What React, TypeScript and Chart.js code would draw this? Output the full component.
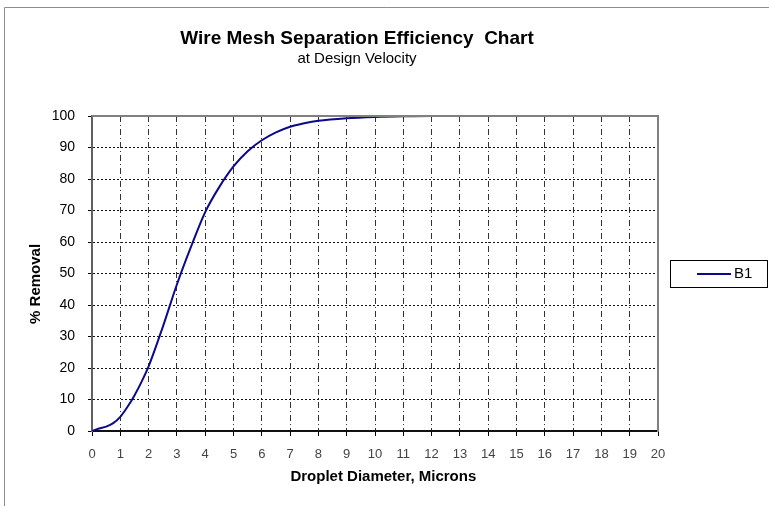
import React, { useEffect, useRef } from 'react';
import { Chart, registerables } from 'chart.js';

Chart.register(...registerables);

// ---- Data ----
const diameters = [0, 0.25, 0.5, 0.75, 1, 1.25, 1.5, 1.75, 2, 2.5, 3, 3.5, 4, 4.5, 5, 5.5, 6, 6.5, 7, 7.5, 8, 9, 10, 11, 12, 13, 14, 15, 16, 17, 18, 19, 20];
const removal = [0, 0.8, 1.4, 2.5, 4.5, 7.6, 11.3, 15.6, 20.5, 33, 46.5, 58.5, 69.5, 77.5, 84, 88.8, 92.3, 94.8, 96.6, 97.7, 98.5, 99.3, 99.7, 99.9, 100, 100, 100, 100, 100, 100, 100, 100, 100];
const seriesName = 'B1';
const chartTitle = 'Wire Mesh Separation Efficiency  Chart';
const chartSubtitle = 'at Design Velocity';
const xAxisTitle = 'Droplet Diameter, Microns';
const yAxisTitle = '% Removal';
const xMin = 0;
const xMax = 20;
const xStep = 1;
const yMin = 0;
const yMax = 100;
const yStep = 10;

const FONT = "'Liberation Sans', Arial, sans-serif";
const LINE_COLOR = '#0a0a8a';

const decorPlugin = {
  id: 'decor',
  beforeDraw(chart: any) {
    const { ctx, width, height } = chart;
    ctx.save();
    ctx.fillStyle = '#ffffff';
    ctx.fillRect(0, 0, width, height);
    ctx.strokeStyle = '#8c8c8c';
    ctx.lineWidth = 1;
    ctx.beginPath();
    ctx.moveTo(4.5, height);
    ctx.lineTo(4.5, 7.5);
    ctx.lineTo(width, 7.5);
    ctx.stroke();
    ctx.restore();
  },
  afterDraw(chart: any) {
    const { ctx, chartArea } = chart;
    ctx.save();
    // top border of plot area
    ctx.strokeStyle = '#808080';
    ctx.lineWidth = 2;
    ctx.beginPath();
    ctx.moveTo(chartArea.left, chartArea.top);
    ctx.lineTo(chartArea.right + 1, chartArea.top);
    ctx.stroke();
    // legend box
    const lx = 670.5;
    const ly = 260.5;
    ctx.strokeStyle = '#000000';
    ctx.lineWidth = 1;
    ctx.strokeRect(lx, ly, 97, 27);
    ctx.strokeStyle = LINE_COLOR;
    ctx.lineWidth = 2;
    ctx.beginPath();
    ctx.moveTo(697, ly + 13.5);
    ctx.lineTo(731, ly + 13.5);
    ctx.stroke();
    ctx.fillStyle = '#000000';
    ctx.font = `15px ${FONT}`;
    ctx.textBaseline = 'middle';
    ctx.textAlign = 'left';
    ctx.fillText(seriesName, 734, ly + 13.5);
    ctx.restore();
  },
};

export default function App() {
  const canvasRef = useRef<HTMLCanvasElement | null>(null);

  useEffect(() => {
    const canvas = canvasRef.current;
    if (!canvas) return;
    const chart = new Chart(canvas, {
      type: 'line',
      data: {
        datasets: [
          {
            label: seriesName,
            data: diameters.map((d, i) => ({ x: d, y: removal[i] })),
            borderColor: LINE_COLOR,
            backgroundColor: LINE_COLOR,
            borderWidth: 2,
            pointRadius: 0,
            cubicInterpolationMode: 'monotone',
            fill: false,
          },
        ],
      },
      options: {
        responsive: false,
        animation: false,
        devicePixelRatio: 1,
        layout: { padding: { top: 0, left: 0, right: 55, bottom: 0 } },
        plugins: {
          legend: { display: false },
          tooltip: { enabled: false },
          title: {
            display: true,
            text: chartTitle,
            color: '#000',
            font: { family: FONT, size: 19, weight: 'bold' },
            padding: { top: 27, bottom: 0 },
          },
          subtitle: {
            display: true,
            text: chartSubtitle,
            color: '#000',
            font: { family: FONT, size: 15, weight: 'normal' },
            padding: { top: 0, bottom: 48.2 },
          },
        },
        scales: {
          x: {
            type: 'linear',
            min: xMin,
            max: xMax,
            ticks: {
              stepSize: xStep,
              color: '#444',
              font: { family: FONT, size: 13 },
              padding: 11,
              maxRotation: 0,
              autoSkip: false,
            },
            grid: { color: '#333', lineWidth: 1, tickLength: 5, tickColor: '#000', tickWidth: 1 },
            border: { color: '#111', width: 2, dash: [6, 3, 1, 3] },
            title: {
              display: true,
              text: '    ' + xAxisTitle,
              color: '#000',
              font: { family: FONT, size: 15, weight: 'bold' },
              padding: { top: 0, bottom: 20 },
            },
            afterFit: (s: any) => {
              s.height = 75;
            },
          },
          y: {
            type: 'linear',
            position: 'left',
            min: yMin,
            max: yMax,
            ticks: {
              stepSize: yStep,
              color: '#000',
              font: { family: FONT, size: 14 },
              padding: 13,
            },
            grid: { color: '#111', lineWidth: 1, tickLength: 4, tickColor: '#000', tickWidth: 1 },
            border: { color: '#606060', width: 2, dash: [2, 2] },
            title: {
              display: true,
              text: yAxisTitle + '     ',
              color: '#000',
              font: { family: FONT, size: 15, weight: 'bold' },
              padding: { top: 27, bottom: 0 },
            },
            afterFit: (s: any) => {
              s.width = 92;
            },
          },
          y2: {
            type: 'linear',
            position: 'right',
            display: true,
            grid: { display: false, drawTicks: false },
            ticks: { display: false },
            border: { display: true, color: '#808080', width: 2 },
            afterFit: (s: any) => {
              s.width = 56;
            },
          },
        },
      } as any,
      plugins: [decorPlugin],
    });
    return () => chart.destroy();
  }, []);

  return (
    <div style={{ position: 'fixed', left: 0, top: 0, width: 769, height: 506, background: '#fff' }}>
      <canvas ref={canvasRef} width={769} height={506} style={{ display: 'block', width: 769, height: 506 }} />
    </div>
  );
}
